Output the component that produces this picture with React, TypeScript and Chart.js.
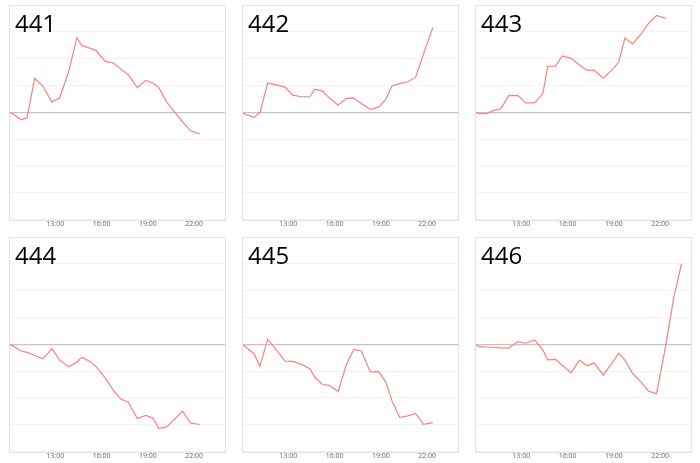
import { Chart, registerables } from "chart.js";
import { useEffect, useRef } from "react";

Chart.register(...registerables);

// sample times shared by all panels (446 runs a little longer)
const times = [
  "10:00", "10:16", "10:47", "11:10", "11:40", "12:12", "12:47", "13:17",
  "13:52", "14:24", "14:43", "15:13", "15:39", "16:14", "16:46", "17:15",
  "17:44", "18:19", "18:52", "19:19", "19:43", "20:13", "20:45", "21:15",
  "21:46", "22:22", "22:54", "23:23",
];

const tickHours = [13, 16, 19, 22];

const s441 = [0, -0.06, -0.28, -0.21, 1.27, 0.97, 0.38, 0.54, 1.51, 2.78, 2.49, 2.39, 2.3, 1.9, 1.84, 1.61, 1.4, 0.92, 1.19, 1.09, 0.92, 0.39, 0, -0.36, -0.69, -0.81];
const s442 = [0, -0.09, -0.19, 0, 1.09, 1.02, 0.94, 0.64, 0.58, 0.58, 0.86, 0.79, 0.54, 0.26, 0.52, 0.53, 0.33, 0.11, 0.2, 0.47, 0.98, 1.07, 1.14, 1.3, 2.18, 3.16];
const s443 = [0, -0.05, -0.04, 0.06, 0.13, 0.63, 0.62, 0.35, 0.35, 0.7, 1.71, 1.72, 2.1, 2.01, 1.76, 1.57, 1.56, 1.27, 1.57, 1.87, 2.77, 2.55, 2.91, 3.31, 3.61, 3.5];
const s444 = [0, -0.06, -0.25, -0.3, -0.42, -0.54, -0.16, -0.59, -0.84, -0.67, -0.48, -0.63, -0.83, -1.26, -1.72, -2.04, -2.16, -2.77, -2.65, -2.74, -3.14, -3.08, -2.78, -2.49, -2.93, -2.99];
const s445 = [0, -0.11, -0.35, -0.82, 0.19, -0.19, -0.63, -0.64, -0.75, -0.91, -1.22, -1.5, -1.53, -1.76, -0.75, -0.19, -0.25, -1.03, -1.02, -1.41, -2.1, -2.72, -2.67, -2.58, -2.98, -2.92];
const s446 = [0, -0.09, -0.1, -0.11, -0.13, -0.14, 0.1, 0.04, 0.16, -0.21, -0.58, -0.56, -0.78, -1.06, -0.59, -0.8, -0.7, -1.15, -0.71, -0.33, -0.59, -1.09, -1.4, -1.75, -1.84, -0.03, 1.79, 3.0];

const labels = ["441", "442", "443", "444", "445", "446"];
const series = [s441, s442, s443, s444, s445, s446];

const toHours = (t: string) => {
  const [h, m] = t.split(":").map(Number);
  return h + m / 60;
};

// box around the plot area
const boxPlugin = {
  id: "box",
  afterDraw(chart: Chart) {
    const { ctx, chartArea } = chart;
    ctx.save();
    ctx.strokeStyle = "#e3e3e3";
    ctx.lineWidth = 1;
    ctx.strokeRect(
      Math.round(chartArea.left) + 0.5,
      Math.round(chartArea.top) + 0.5,
      Math.round(chartArea.right - chartArea.left),
      Math.round(chartArea.bottom - chartArea.top)
    );
    ctx.restore();
  },
};

const Panel = ({ label, values, left, top }: { label: string; values: number[]; left: number; top: number }) => {
  const chartRef = useRef<HTMLCanvasElement>(null);
  const chartInstanceRef = useRef<Chart | null>(null);

  useEffect(() => {
    if (!chartRef.current) return;
    const ctx = chartRef.current.getContext("2d");
    if (!ctx) return;
    if (chartInstanceRef.current) chartInstanceRef.current.destroy();

    chartInstanceRef.current = new Chart(ctx, {
      type: "line",
      data: {
        datasets: [
          {
            data: values.map((v, i) => ({ x: toHours(times[i]), y: v })),
            borderColor: "#ff7f7f",
            borderWidth: 1.2,
            pointRadius: 0,
            tension: 0,
            fill: false,
          },
        ],
      },
      options: {
        animation: false,
        responsive: true,
        maintainAspectRatio: false,
        layout: { padding: { left: 1, right: 1, top: 1, bottom: 0 } },
        plugins: { legend: { display: false }, tooltip: { enabled: false } },
        scales: {
          x: {
            type: "linear",
            min: 10,
            max: 24,
            afterBuildTicks: (axis: any) => {
              axis.ticks = tickHours.map((v) => ({ value: v }));
            },
            grid: { display: false, drawTicks: false },
            border: { display: false },
            ticks: {
              maxRotation: 0,
              padding: 0,
              color: "#666",
              font: { size: 7, family: "Open Sans" },
              callback: (v: any) => `${v}:00`,
            },
          },
          y: {
            min: -4,
            max: 4,
            ticks: { display: false, stepSize: 1 },
            border: { display: false },
            grid: {
              drawTicks: false,
              color: (c: any) => (c.tick && c.tick.value === 0 ? "#c4c4c4" : "#f3f3f3"),
              lineWidth: (c: any) => (c.tick && c.tick.value === 0 ? 1.2 : 1),
            },
          },
        },
      },
      plugins: [boxPlugin],
    });

    return () => {
      if (chartInstanceRef.current) {
        chartInstanceRef.current.destroy();
        chartInstanceRef.current = null;
      }
    };
  }, [values]);

  return (
    <div style={{ position: "absolute", left, top, width: 218, height: 224 }}>
      <canvas ref={chartRef}></canvas>
      <div
        style={{
          position: "absolute",
          left: 7,
          top: 7,
          fontFamily: "Open Sans",
          fontSize: 24,
          lineHeight: 1,
          color: "#000",
        }}
      >
        {label}
      </div>
    </div>
  );
};

const colLeft = [8, 241, 474];
const rowTop = [4, 236];

export default function App() {
  return (
    <div style={{ position: "fixed", left: 0, top: 0, width: 700, height: 463, background: "#fff" }}>
      {series.map((s, i) => (
        <Panel key={labels[i]} label={labels[i]} values={s} left={colLeft[i % 3]} top={rowTop[Math.floor(i / 3)]} />
      ))}
    </div>
  );
}
